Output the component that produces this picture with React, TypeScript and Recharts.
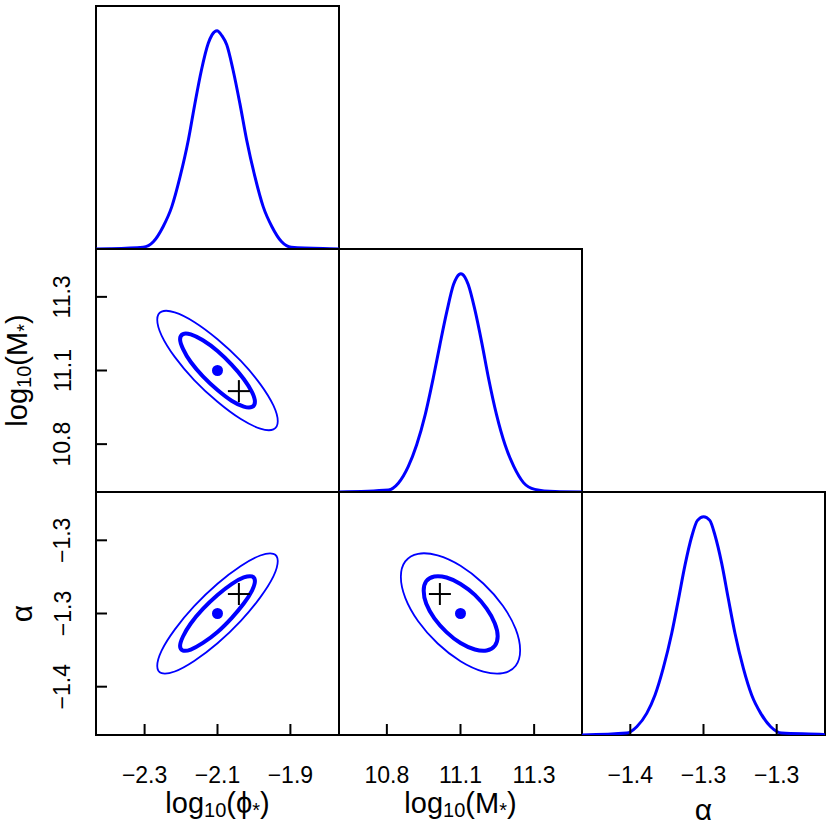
import React from "react";
import { ComposedChart, Line, Scatter, XAxis, YAxis, ReferenceArea } from "recharts";

const FONT = '"Liberation Sans", Arial, Helvetica, sans-serif';
const BLUE = "#0000ff";

// axis ranges, tick positions and the labels printed under them
const phiDomain = [-2.35, -1.85];
const phiTicks = [-2.25, -2.1, -1.95];
const phiLabels = ["\u22122.3", "\u22122.1", "\u22121.9"];
const massDomain = [10.72, 11.38];
const massTicks = [10.85, 11.05, 11.25];
const massLabels = ["10.8", "11.1", "11.3"];
const alphaDomain = [-1.383, -1.217];
const alphaTicks = [-1.35, -1.3, -1.25];
const alphaLabels = ["\u22121.4", "\u22121.3", "\u22121.3"];
const densityDomain = [0, 1.113];

// marginal posteriors (peak = 1)
const phiDensity = [
  [-2.35, 0], [-2.321, 0.001], [-2.253, 0.008], [-2.232, 0.033], [-2.212, 0.102],
  [-2.194, 0.194], [-2.177, 0.331], [-2.16, 0.499], [-2.147, 0.66], [-2.133, 0.82],
  [-2.119, 0.942], [-2.111, 0.982], [-2.101, 1], [-2.091, 0.977], [-2.081, 0.935],
  [-2.068, 0.82], [-2.054, 0.667], [-2.04, 0.499], [-2.023, 0.331], [-2.006, 0.194],
  [-1.988, 0.102], [-1.968, 0.033], [-1.948, 0.008], [-1.869, 0.001], [-1.85, 0],
];
const massDensity = [
  [10.72, 0], [10.854, 0.009], [10.881, 0.04], [10.908, 0.116], [10.931, 0.216],
  [10.954, 0.353], [10.976, 0.522], [10.994, 0.674], [11.013, 0.827], [11.031, 0.95],
  [11.04, 0.984], [11.051, 1], [11.062, 0.984], [11.071, 0.95], [11.089, 0.835],
  [11.108, 0.682], [11.126, 0.522], [11.148, 0.353], [11.171, 0.216], [11.195, 0.116],
  [11.221, 0.043], [11.252, 0.012], [11.307, 0.002], [11.38, 0],
];
const alphaDensity = [
  [-1.383, 0], [-1.3525, 0.009], [-1.3456, 0.038], [-1.3388, 0.099], [-1.3331, 0.183],
  [-1.3275, 0.306], [-1.3217, 0.466], [-1.3172, 0.618], [-1.3126, 0.779], [-1.3081, 0.908],
  [-1.3041, 0.983], [-1.2999, 1], [-1.2957, 0.983], [-1.2922, 0.916], [-1.2876, 0.787],
  [-1.2831, 0.626], [-1.2785, 0.466], [-1.2728, 0.306], [-1.2671, 0.183], [-1.2609, 0.099],
  [-1.2541, 0.038], [-1.2466, 0.009], [-1.2182, 0.002], [-1.217, 0],
];

// 68% / 95% contours, traced around each ellipse
const phiMassInner = [
  [-2.023, 10.965], [-2.029, 10.991], [-2.046, 11.027], [-2.071, 11.066], [-2.1, 11.103],
  [-2.13, 11.132], [-2.155, 11.148], [-2.171, 11.149], [-2.177, 11.135], [-2.171, 11.109],
  [-2.155, 11.073], [-2.13, 11.034], [-2.1, 10.997], [-2.071, 10.968], [-2.046, 10.952],
  [-2.029, 10.951],
];
const phiMassOuter = [
  [-1.976, 10.912], [-1.985, 10.955], [-2.012, 11.013], [-2.052, 11.076], [-2.1, 11.135],
  [-2.148, 11.182], [-2.188, 11.208], [-2.215, 11.21], [-2.224, 11.188], [-2.215, 11.145],
  [-2.188, 11.087], [-2.148, 11.024], [-2.1, 10.965], [-2.052, 10.918], [-2.012, 10.892],
  [-1.985, 10.89],
];
const phiAlphaInner = [
  [-2.023, -1.2778], [-2.029, -1.2747], [-2.046, -1.2754], [-2.071, -1.2799], [-2.1, -1.2874],
  [-2.13, -1.2969], [-2.155, -1.3068], [-2.171, -1.3157], [-2.177, -1.3222], [-2.171, -1.3253],
  [-2.155, -1.3246], [-2.13, -1.3201], [-2.1, -1.3126], [-2.071, -1.3031], [-2.046, -1.2932],
  [-2.029, -1.2843],
];
const phiAlphaOuter = [
  [-1.976, -1.2642], [-1.985, -1.2592], [-2.012, -1.2604], [-2.052, -1.2676], [-2.1, -1.2797],
  [-2.148, -1.295], [-2.188, -1.311], [-2.215, -1.3253], [-2.224, -1.3358], [-2.215, -1.3408],
  [-2.188, -1.3396], [-2.148, -1.3324], [-2.1, -1.3203], [-2.052, -1.305], [-2.012, -1.289],
  [-1.985, -1.2747],
];
const massAlphaInner = [
  [11.151, -1.3155], [11.143, -1.3066], [11.121, -1.2967], [11.089, -1.2873], [11.05, -1.2798],
  [11.012, -1.2754], [10.979, -1.2747], [10.957, -1.2779], [10.95, -1.2845], [10.957, -1.2934],
  [10.979, -1.3033], [11.012, -1.3127], [11.05, -1.3202], [11.089, -1.3246], [11.121, -1.3253],
  [11.143, -1.3221],
];
const massAlphaOuter = [
  [11.212, -1.3251], [11.2, -1.3107], [11.165, -1.2947], [11.112, -1.2795], [11.05, -1.2674],
  [10.988, -1.2603], [10.935, -1.2592], [10.9, -1.2644], [10.888, -1.2749], [10.9, -1.2893],
  [10.935, -1.3053], [10.988, -1.3205], [11.05, -1.3326], [11.112, -1.3397], [11.165, -1.3408],
  [11.2, -1.3357],
];

// posterior mean (dot) and input value (cross)
const meanPoint = { phi: -2.1, mass: 11.05, alpha: -1.3 };
const truePoint = { phi: -2.056, mass: 10.994, alpha: -1.2867 };

const pts = (arr: number[][]) => arr.map(([x, y]) => ({ x, y }));

// closed Catmull-Rom curve so the contour goes through every traced point
function closedCurve(context: any) {
  let p: number[][] = [];
  return {
    areaStart() {},
    areaEnd() {},
    lineStart() { p = []; },
    point(x: number, y: number) { p.push([x, y]); },
    lineEnd() {
      const n = p.length;
      if (n < 3) return;
      context.moveTo(p[0][0], p[0][1]);
      for (let i = 0; i < n; i++) {
        const a = p[(i - 1 + n) % n], b = p[i], c = p[(i + 1) % n], d = p[(i + 2) % n];
        context.bezierCurveTo(
          b[0] + (c[0] - a[0]) / 6, b[1] + (c[1] - a[1]) / 6,
          c[0] - (d[0] - b[0]) / 6, c[1] - (d[1] - b[1]) / 6,
          c[0], c[1]
        );
      }
      context.closePath();
    },
  };
}

type Axis = { domain: number[]; ticks: number[]; labels: string[] };
const PHI: Axis = { domain: phiDomain, ticks: phiTicks, labels: phiLabels };
const MASS: Axis = { domain: massDomain, ticks: massTicks, labels: massLabels };
const ALPHA: Axis = { domain: alphaDomain, ticks: alphaTicks, labels: alphaLabels };
const DENS: Axis = { domain: densityDomain, ticks: [], labels: [] };

// grid of panels
const PANEL = 243;
const ORIGIN_X = 96;
const ORIGIN_Y = 6;
const BOTTOM = ORIGIN_Y + 3 * PANEL;
const TICK_LEN = 11;
const TICK_FONT = 23;

const labelOf = (ax: Axis, p: any) => {
  const i = ax.ticks.indexOf(p.payload?.value);
  return ax.labels[i >= 0 ? i : p.index];
};

// axis title like log10(M*), optionally rotated for the left side
function LogTitle({ at, sym, vertical }: any) {
  const [x, y] = at;
  return (
    <text x={x} y={y} textAnchor="middle" fontFamily={FONT} fontSize={29} fill="#000"
      transform={vertical ? `rotate(-90 ${x} ${y})` : undefined}>
      log<tspan fontSize={20} dy={4}>10</tspan>
      <tspan dy={-4}>({sym}</tspan>
      <tspan fontSize={20} dy={4}>*</tspan>
      <tspan dy={-4}>)</tspan>
    </text>
  );
}

function AlphaTitle({ at, vertical }: any) {
  const [x, y] = at;
  return (
    <text x={x} y={y} textAnchor="middle" fontFamily={FONT} fontSize={30} fill="#000"
      transform={vertical ? `rotate(-90 ${x} ${y})` : undefined}>
      α
    </text>
  );
}

const Dot = (p: any) => <circle cx={p.cx} cy={p.cy} r={5.5} fill={BLUE} />;
const Cross = (p: any) => (
  <g stroke="#000" strokeWidth={2}>
    <line x1={p.cx - 11} y1={p.cy} x2={p.cx + 11} y2={p.cy} />
    <line x1={p.cx} y1={p.cy - 11} x2={p.cx} y2={p.cy + 11} />
  </g>
);

function Panel({ row, col, xAx, yAx, showX, showY, xTitle, yTitle, children }: any) {
  const left = ORIGIN_X + PANEL * col;
  const top = ORIGIN_Y + PANEL * row;
  const margin = { left, top, right: 830 - left - PANEL, bottom: 830 - top - PANEL };
  return (
    <div style={{ position: "absolute", left: 0, top: 0 }}>
      <ComposedChart width={830} height={830} margin={margin}>
        <XAxis type="number" dataKey="x" domain={xAx.domain} allowDataOverflow
          ticks={xAx.ticks} interval={0} hide={!showX} height={1} mirror
          axisLine={false} tickLine={false}
          tick={(p: any) => (
            <g>
              {/* inward tick + label below the panel */}
              <line x1={p.x} y1={BOTTOM} x2={p.x} y2={BOTTOM - TICK_LEN} stroke="#000" strokeWidth={2} />
              <text x={p.x} y={782.5} textAnchor="middle" fontFamily={FONT} fontSize={TICK_FONT} fill="#000">
                {labelOf(xAx, p)}
              </text>
            </g>
          )}
          label={xTitle} />
        <YAxis type="number" dataKey="y" domain={yAx.domain} allowDataOverflow
          ticks={yAx.ticks} interval={0} hide={!showY} width={1} mirror
          axisLine={false} tickLine={false}
          tick={(p: any) => (
            <g>
              <line x1={ORIGIN_X} y1={p.y} x2={ORIGIN_X + TICK_LEN} y2={p.y} stroke="#000" strokeWidth={2} />
              <text x={70.5} y={p.y} textAnchor="middle" fontFamily={FONT} fontSize={TICK_FONT} fill="#000"
                transform={`rotate(-90 70.5 ${p.y})`}>
                {labelOf(yAx, p)}
              </text>
            </g>
          )}
          label={yTitle} />
        <ReferenceArea x1={xAx.domain[0]} x2={xAx.domain[1]} y1={yAx.domain[0]} y2={yAx.domain[1]}
          fill="none" stroke="#000" strokeWidth={2} />
        {children}
      </ComposedChart>
    </div>
  );
}

const density = (data: number[][]) => (
  <Line data={pts(data)} dataKey="y" type="monotone" stroke={BLUE} strokeWidth={3}
    dot={false} activeDot={false} isAnimationActive={false} />
);

const contours = (inner: number[][], outer: number[][], mean: number[], truth: number[]) => [
  <Line key="o" data={pts(outer)} dataKey="y" type={closedCurve as any} stroke={BLUE} strokeWidth={1.8}
    dot={false} activeDot={false} isAnimationActive={false} />,
  <Line key="i" data={pts(inner)} dataKey="y" type={closedCurve as any} stroke={BLUE} strokeWidth={4}
    dot={false} activeDot={false} isAnimationActive={false} />,
  <Scatter key="m" data={[{ x: mean[0], y: mean[1] }]} shape={Dot} isAnimationActive={false} />,
  <Scatter key="t" data={[{ x: truth[0], y: truth[1] }]} shape={Cross} isAnimationActive={false} />,
];

export default function App() {
  return (
    <div style={{ position: "absolute", left: 0, top: 0, width: 830, height: 830, background: "#fff" }}>
      <Panel row={0} col={0} xAx={PHI} yAx={DENS}>
        {density(phiDensity)}
      </Panel>
      <Panel row={1} col={0} xAx={PHI} yAx={MASS} showY
        yTitle={<LogTitle at={[27, 370.5]} sym="M" vertical />}>
        {contours(phiMassInner, phiMassOuter, [meanPoint.phi, meanPoint.mass], [truePoint.phi, truePoint.mass])}
      </Panel>
      <Panel row={1} col={1} xAx={MASS} yAx={DENS}>
        {density(massDensity)}
      </Panel>
      <Panel row={2} col={0} xAx={PHI} yAx={ALPHA} showX showY
        xTitle={<LogTitle at={[217.5, 813]} sym={"\u03d5"} />}
        yTitle={<AlphaTitle at={[32, 613.5]} vertical />}>
        {contours(phiAlphaInner, phiAlphaOuter, [meanPoint.phi, meanPoint.alpha], [truePoint.phi, truePoint.alpha])}
      </Panel>
      <Panel row={2} col={1} xAx={MASS} yAx={ALPHA} showX
        xTitle={<LogTitle at={[460.5, 813]} sym="M" />}>
        {contours(massAlphaInner, massAlphaOuter, [meanPoint.mass, meanPoint.alpha], [truePoint.mass, truePoint.alpha])}
      </Panel>
      <Panel row={2} col={2} xAx={ALPHA} yAx={DENS} showX
        xTitle={<AlphaTitle at={[703.5, 820]} />}>
        {density(alphaDensity)}
      </Panel>
    </div>
  );
}
